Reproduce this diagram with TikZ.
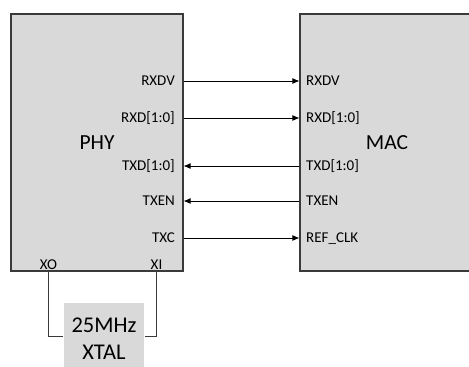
\documentclass[tikz,border=0pt]{standalone}
\usepackage{fontspec}
\setmainfont{Carlito}
\usetikzlibrary{positioning,arrows.meta,calc}
\definecolor{gribloc}{HTML}{D9D9D9}
\definecolor{contur}{HTML}{3A3A3A}
\tikzset{
  bloc/.style     = {draw=contur, fill=gribloc, line width=1.1pt, inner sep=0pt,
                     font=\fontsize{21.5}{25}\selectfont},
  eticheta/.style = {font=\fontsize{15}{17}\selectfont, inner sep=0pt,
                     text height=9.5pt, text depth=0pt},
  sageata/.style  = {-{Latex[length=7pt,width=6pt]}, line width=0.9pt},
  fir/.style      = {line width=0.9pt, draw=contur}
}

\begin{document}
\begin{tikzpicture}[x=1pt, y=-1pt]
        \useasboundingbox (0,0) rectangle (469,367);
        \clip (0,0) rectangle (469,367);

        \node[bloc, minimum width=172pt, minimum height=257pt] (phy) at (97,142.5) {PHY};
        \node[bloc, minimum width=174pt, minimum height=257pt] (mac) at (387,142.5) {MAC};

        \foreach \y/\a/\b/\nume in {81/RXDV/RXDV/rxdv, 118/RXD[1:0]/RXD[1:0]/rxd,
                                    166/TXD[1:0]/TXD[1:0]/txd, 201/TXEN/TXEN/txen,
                                    238/TXC/REF\_CLK/txc} {
            \node[eticheta, anchor=east] (p\nume) at (175,\y) {\a};
            \node[eticheta, anchor=west] (m\nume) at (306,\y) {\b};
        }

        \draw[sageata] (phy.east |- prxdv) -- (mac.west |- mrxdv);
        \draw[sageata] (phy.east |- prxd) -- (mac.west |- mrxd);
        \draw[sageata] (mac.west |- mtxd) -- (phy.east |- ptxd);
        \draw[sageata] (mac.west |- mtxen) -- (phy.east |- ptxen);
        \draw[sageata] (phy.east |- ptxc) -- (mac.west |- mtxc);

        \node[eticheta] (xo) at (48.5,265) {XO};
        \node[eticheta] (xi) at (156.5,265) {XI};

        \node[bloc, draw=none, minimum width=80pt, minimum height=73pt, anchor=north,
              align=center, font=\fontsize{22.5}{27}\selectfont] (xtal) at (104,302)
            {25MHz\\XTAL};

        \coordinate (legatura) at (0,336);
        \draw[fir] (phy.south -| xo) |- (xtal.west |- legatura);
        \draw[fir] (phy.south -| xi) |- (xtal.east |- legatura);
    \end{tikzpicture}
\end{document}
